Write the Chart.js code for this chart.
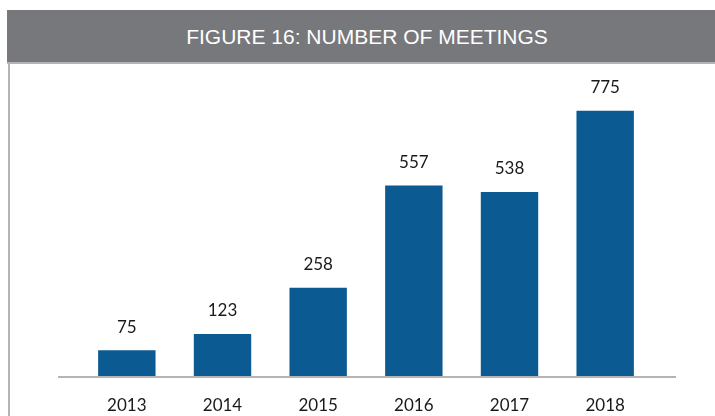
<!DOCTYPE html>
<html>
<head>
<meta charset="utf-8">
<script src="https://cdn.jsdelivr.net/npm/chart.js@4"></script>
<style>
html,body{margin:0;padding:0;background:#fff;}
body{width:715px;height:416px;position:relative;overflow:hidden;}
.header{position:absolute;left:7px;top:10px;width:708px;height:52px;background:#77787c;border-bottom:2px solid #b4b4b6;
  color:#fff;font-family:"Liberation Sans",Arial,sans-serif;font-size:21px;line-height:54px;text-align:center;}
.header span{position:relative;left:6px;}
.leftline{position:absolute;left:8px;top:64px;width:2px;height:352px;background:#b4b4b6;}
#wrap{position:absolute;left:0;top:0;width:715px;height:416px;}
</style>
</head>
<body>
<div class="header"><span>FIGURE 16: NUMBER OF MEETINGS</span></div>
<div class="leftline"></div>
<div id="wrap"><canvas id="meetingsChart"></canvas></div>
<script>
const years = ["2013","2014","2015","2016","2017","2018"];
const meetings = [75,123,258,557,538,775];

// value labels above each bar
const barLabels = {
    id:"barLabels",
    afterDatasetsDraw(chart){
        const ctx = chart.ctx;
        const meta = chart.getDatasetMeta(0);
        ctx.save();
        ctx.font = "17px Lato, 'Open Sans', sans-serif";
        ctx.fillStyle = "#1a1a1a";
        ctx.textAlign = "center";
        ctx.textBaseline = "middle";
        meta.data.forEach((bar,i)=>{
            ctx.fillText(meetings[i], bar.x, bar.y - 23);
        });
        ctx.restore();
    }
};

// baseline a bit wider than the plot area
const baseLine = {
    id:"baseLine",
    beforeDatasetsDraw(chart){
        const a = chart.chartArea;
        const ctx = chart.ctx;
        ctx.save();
        ctx.strokeStyle = "#b4b4b6";
        ctx.lineWidth = 2;
        ctx.beginPath();
        ctx.moveTo(a.left - 21, a.bottom + 1);
        ctx.lineTo(a.right + 23, a.bottom + 1);
        ctx.stroke();
        ctx.restore();
    }
};

new Chart(document.getElementById("meetingsChart"),{
    type:"bar",
    data:{
        labels:years,
        datasets:[{
            data:meetings,
            backgroundColor:"#0b5a92",
            barPercentage:0.6,
            categoryPercentage:1
        }]
    },
    options:{
        responsive:true,
        maintainAspectRatio:false,
        animation:false,
        layout:{padding:{left:79,right:62,top:68,bottom:0}},
        plugins:{legend:{display:false},tooltip:{enabled:false}},
        scales:{
            x:{
                grid:{display:false},
                border:{display:false},
                ticks:{color:"#1a1a1a",padding:11,font:{family:"Lato, 'Open Sans', sans-serif",size:17}},
                afterFit(scale){ scale.height = 40; }
            },
            y:{
                display:false,
                min:0,
                max:900
            }
        }
    },
    plugins:[barLabels,baseLine]
});
</script>
</body>
</html>
